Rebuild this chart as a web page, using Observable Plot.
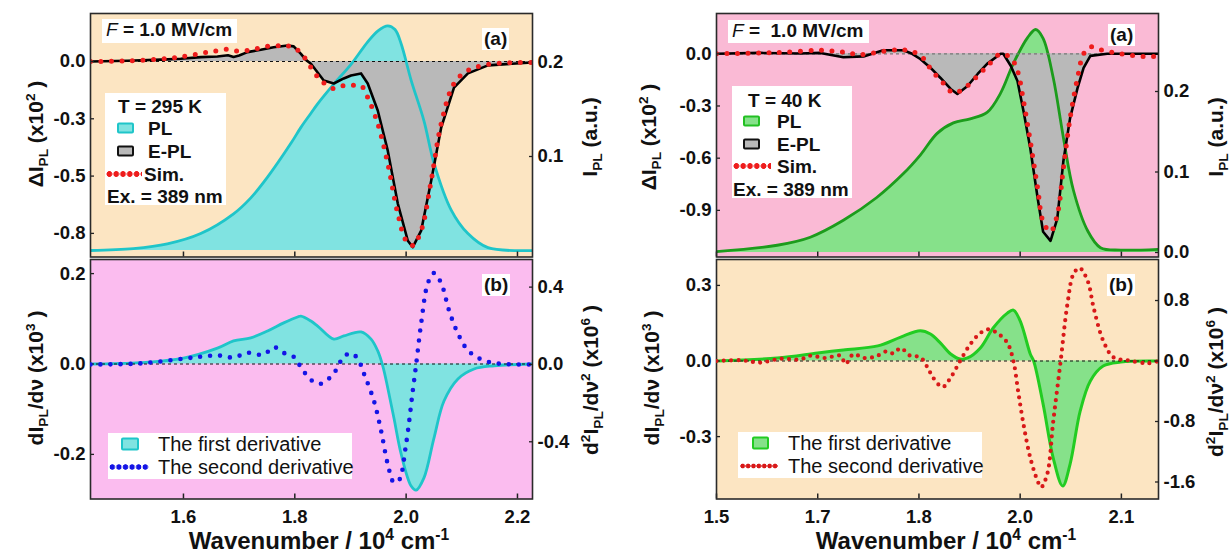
<!DOCTYPE html>
<html>
<head>
<meta charset="utf-8">
<script src="https://cdn.jsdelivr.net/npm/d3@7"></script>
<script src="https://cdn.jsdelivr.net/npm/@observablehq/plot@0.6"></script>
<style>
  body { margin: 0; background: #fff; }
  #root { position: relative; width: 1231px; height: 554px; overflow: hidden; background: #fff;
          font-family: 'Liberation Sans', Arial, Helvetica, sans-serif; color: #111; }
  .ytitle { position: absolute; transform: translate(-50%, -50%) rotate(-90deg); font-weight: bold;
            font-size: 21px; white-space: nowrap; line-height: 1; }
  .xtitle { position: absolute; transform: translate(-50%, -50%); font-weight: bold; font-size: 24px;
            white-space: nowrap; line-height: 1; }
  sub, sup { font-size: 0.65em; line-height: 0; }
  .box { position: absolute; background: #fff; }
  .tag { position: absolute; background: #fff; font-weight: bold; font-size: 19px; line-height: 22px;
         padding: 0 2px; white-space: nowrap; }
  .it { position: absolute; transform: translateY(-50%); white-space: nowrap; line-height: 1; }
  .b { font-weight: bold; font-size: 19px; }
  .r { font-weight: normal; font-size: 20px; }
  .sw { position: absolute; transform: translateY(-50%); box-sizing: border-box; border-radius: 2px; }
  .dots { position: absolute; transform: translateY(-50%); height: 6px; background-repeat: repeat-x; }
</style>
</head>
<body>
<div id="root"></div>
<script>
// ---------------- DATA ----------------
// Left column, T = 295 K. Wavenumber in 10^4 cm^-1
const LT_PL_wn = [1.433,1.510,1.571,1.631,1.690,1.721,1.751,1.793,1.811,1.829,1.841,1.870,1.901,1.931,1.950,1.967,1.980,1.991,2.009,2.032,2.050,2.081,2.111,2.147,2.227];
const LT_PL    = [0.000,0.002,0.007,0.018,0.039,0.056,0.078,0.114,0.131,0.146,0.156,0.177,0.198,0.222,0.234,0.239,0.235,0.220,0.181,0.138,0.093,0.043,0.018,0.003,0.000];
const LT_EPL_wn = [1.433,1.500,1.560,1.595,1.631,1.661,1.680,1.690,1.700,1.715,1.739,1.762,1.787,1.798,1.811,1.820,1.829,1.852,1.870,1.888,1.901,1.919,1.931,1.949,1.967,1.985,2.003,2.012,2.027,2.045,2.063,2.086,2.111,2.147,2.227];
const LT_EPL    = [0,0.003,0.008,0.012,0.019,0.022,0.027,0.020,0.026,0.041,0.051,0.062,0.070,0.066,0.033,0.007,-0.010,-0.083,-0.096,-0.074,-0.061,-0.052,-0.096,-0.214,-0.389,-0.620,-0.782,-0.810,-0.738,-0.520,-0.288,-0.114,-0.052,-0.017,-0.004];
const LT_SIM_wn = [1.433,1.500,1.571,1.600,1.631,1.655,1.679,1.700,1.721,1.740,1.760,1.780,1.793,1.811,1.829,1.847,1.870,1.888,1.905,1.919,1.931,1.949,1.967,1.985,2.000,2.012,2.027,2.045,2.063,2.086,2.111,2.147,2.227];
const LT_SIM    = [0,0.003,0.013,0.022,0.035,0.045,0.053,0.045,0.050,0.061,0.069,0.068,0.066,0.037,-0.026,-0.083,-0.118,-0.105,-0.104,-0.105,-0.157,-0.271,-0.445,-0.664,-0.782,-0.803,-0.738,-0.520,-0.271,-0.096,-0.039,-0.013,-0.004];
const LB_D1_wn = [1.433,1.523,1.600,1.661,1.690,1.721,1.751,1.780,1.805,1.811,1.829,1.841,1.870,1.888,1.919,1.937,1.949,1.958,1.967,1.978,1.991,2.009,2.018,2.032,2.050,2.068,2.093,2.122,2.158,2.227];
const LB_D1    = [0,0.003,0.013,0.035,0.051,0.058,0.073,0.091,0.104,0.106,0.095,0.084,0.055,0.062,0.071,0.055,0.029,-0.004,-0.053,-0.119,-0.199,-0.270,-0.279,-0.252,-0.164,-0.082,-0.033,-0.011,-0.004,0];
const LB_D2_wn = [1.433,1.520,1.600,1.631,1.661,1.690,1.715,1.744,1.762,1.780,1.798,1.811,1.829,1.847,1.870,1.888,1.901,1.913,1.924,1.942,1.955,1.967,1.978,1.987,2.000,2.012,2.018,2.027,2.039,2.050,2.063,2.077,2.093,2.111,2.135,2.165,2.227];
const LB_D2    = [0,0.005,0.03,0.04,0.047,0.036,0.06,0.05,0.09,0.06,0.04,-0.014,-0.08,-0.10,-0.046,0.04,0.058,0.03,-0.046,-0.187,-0.343,-0.516,-0.61,-0.60,-0.41,-0.135,0,0.213,0.42,0.473,0.42,0.28,0.16,0.073,0.026,0.005,0];

// Right column, T = 40 K
const RT_PL_wn = [1.500,1.590,1.639,1.688,1.737,1.777,1.802,1.827,1.851,1.876,1.901,1.921,1.940,1.961,1.973,1.984,1.999,2.014,2.029,2.050,2.069,2.099,2.155];
const RT_PL    = [0.001,0.009,0.019,0.040,0.068,0.098,0.121,0.148,0.161,0.166,0.174,0.198,0.235,0.267,0.277,0.266,0.217,0.143,0.077,0.027,0.006,0.003,0.004];
const RT_EPL_wn = [1.500,1.565,1.624,1.654,1.688,1.718,1.747,1.777,1.790,1.802,1.817,1.832,1.847,1.857,1.872,1.887,1.901,1.921,1.925,1.936,1.946,1.955,1.965,1.976,1.984,1.995,2.005,2.014,2.024,2.035,2.044,2.054,2.079,2.155];
const RT_EPL    = [0,0.005,0.002,0.005,-0.02,-0.015,0.02,0.02,0.0,-0.03,-0.08,-0.139,-0.202,-0.231,-0.185,-0.116,-0.058,0.0,0.0,-0.069,-0.156,-0.33,-0.543,-0.832,-1.023,-1.075,-0.948,-0.618,-0.37,-0.197,-0.081,-0.012,0,0];
const RT_SIM_wn = [1.500,1.565,1.600,1.650,1.688,1.713,1.758,1.783,1.802,1.813,1.817,1.836,1.851,1.866,1.887,1.906,1.921,1.936,1.946,1.955,1.965,1.976,1.984,1.995,2.005,2.014,2.024,2.035,2.044,2.054,2.069,2.099,2.143,2.155];
const RT_SIM    = [0,0.005,0.008,0.02,0.01,-0.005,0.02,0.02,-0.01,-0.058,-0.087,-0.168,-0.225,-0.202,-0.127,-0.052,0,-0.023,-0.098,-0.272,-0.503,-0.775,-0.965,-1.023,-0.925,-0.659,-0.37,-0.139,0.0,0.04,0.023,0.0,-0.017,-0.01];
const RB_D1_wn = [1.500,1.590,1.650,1.688,1.739,1.773,1.802,1.817,1.832,1.847,1.861,1.872,1.891,1.910,1.931,1.940,1.950,1.965,1.970,1.984,1.999,2.013,2.024,2.039,2.054,2.073,2.099,2.155];
const RB_D1    = [0,0.012,0.032,0.044,0.06,0.095,0.12,0.107,0.071,0.028,0.008,0.012,0.052,0.131,0.19,0.202,0.159,0.028,0,-0.171,-0.385,-0.496,-0.409,-0.198,-0.079,-0.02,-0.004,0];
const RB_D2_wn = [1.500,1.536,1.565,1.595,1.624,1.639,1.661,1.684,1.691,1.703,1.718,1.736,1.753,1.762,1.773,1.787,1.802,1.813,1.821,1.835,1.847,1.861,1.876,1.891,1.903,1.916,1.931,1.940,1.947,1.955,1.965,1.976,1.981,1.990,1.999,2.010,2.020,2.029,2.038,2.050,2.059,2.073,2.088,2.109,2.139,2.155];
const RB_D2    = [0,0.01,-0.02,0.03,0.02,0.07,0.04,0.07,-0.04,0.09,0.04,0.06,0.13,0.10,0.17,0.07,0.05,-0.09,-0.22,-0.345,-0.22,0,0.22,0.37,0.42,0.37,0.24,0,-0.40,-0.84,-1.28,-1.59,-1.67,-1.50,-0.80,0,0.75,1.15,1.23,1.06,0.70,0.27,0.05,0.01,-0.03,0];

// Ticks and tick labels
const L_xTicks = [1.6, 1.8, 2.0, 2.2];             const L_xLabels = ["1.6","1.8","2.0","2.2"];
const R_xTicks = [1.5, 1.65, 1.8, 1.95, 2.1];      const R_xLabels = ["1.5","1.7","1.8","2.0","2.1"];
const LT_yTicks = [0, -0.25, -0.5, -0.75];         const LT_yLabels = ["0.0","-0.3","-0.5","-0.8"];
const LT_y2Ticks = [0.1, 0.2];                     const LT_y2Labels = ["0.1","0.2"];
const LB_yTicks = [0.2, 0, -0.2];                  const LB_yLabels = ["0.2","0.0","-0.2"];
const LB_y2Ticks = [0.4, 0, -0.4];                 const LB_y2Labels = ["0.4","0.0","-0.4"];
const RT_yTicks = [0, -0.3, -0.6, -0.9];           const RT_yLabels = ["0.0","-0.3","-0.6","-0.9"];
const RT_y2Ticks = [0, 0.1, 0.2];                  const RT_y2Labels = ["0.0","0.1","0.2"];
const RB_yTicks = [0.3, 0, -0.3];                  const RB_yLabels = ["0.3","0.0","-0.3"];
const RB_y2Ticks = [0.8, 0, -0.8, -1.6];           const RB_y2Labels = ["0.8","0.0","-0.8","-1.6"];

// ---------------- helpers ----------------
const FONT = "'Liberation Sans', Arial, Helvetica, sans-serif";
const root = document.getElementById("root");
const tbl = (xs, ys) => xs.map((x, i) => ({x, y: ys[i]}));
const fmt = (ticks, labels) => d => labels[ticks.findIndex(t => Math.abs(t - d) < 1e-9)];

const MARGIN = {l: 60, r: 60, t: 8};
function layer(frame, xDomain, yDomain, mb, marks) {
  const svg = Plot.plot({
    width: frame.w + MARGIN.l + MARGIN.r,
    height: frame.h + MARGIN.t + mb,
    marginLeft: MARGIN.l, marginRight: MARGIN.r, marginTop: MARGIN.t, marginBottom: mb,
    x: {domain: xDomain, axis: null, label: null},
    y: {domain: yDomain, axis: null, label: null},
    style: {background: "transparent", overflow: "visible", fontFamily: FONT, fontSize: "18.5px",
            fontWeight: "bold", color: "#111"},
    marks
  });
  svg.style.position = "absolute";
  svg.style.left = (frame.x - MARGIN.l) + "px";
  svg.style.top = (frame.y - MARGIN.t) + "px";
  root.appendChild(svg);
}
function yAxis(anchor, ticks, labels) {
  return [
    Plot.axisY({anchor, ticks, label: null, tickSize: -4, fill: "none", stroke: "#222", strokeWidth: 1.3}),
    Plot.axisY({anchor, ticks, label: null, tickSize: 0, tickPadding: 5, tickFormat: fmt(ticks, labels)})
  ];
}
function xAxis(ticks, labels, withLabels) {
  const m = [Plot.axisX({ticks, label: null, tickSize: -5, fill: "none", stroke: "#222", strokeWidth: 1.5})];
  if (withLabels) m.push(Plot.axisX({ticks, label: null, tickSize: 0, tickPadding: 11, tickFormat: fmt(ticks, labels)}));
  return m;
}
const dotted = (data, color, w, gap) => Plot.line(data, {x: "x", y: "y", stroke: color, strokeWidth: w,
  strokeDasharray: `0 ${gap}`, strokeLinecap: "round", curve: "catmull-rom", clip: true});
const zero = (color) => Plot.ruleY([0], {stroke: color, strokeWidth: 1.2, strokeDasharray: "3,3"});
const border = () => Plot.frame({stroke: "#2a2a2a", strokeWidth: 1.6});

// Frames (plot areas) in page pixels
const LTf = {x: 90, y: 13, w: 442, h: 243.5};
const LBf = {x: 90, y: 258.5, w: 442, h: 239.5};
const RTf = {x: 716, y: 13, w: 442, h: 243.5};
const RBf = {x: 716, y: 258.5, w: 442, h: 239.5};
const L_xDom = [1.433, 2.227], R_xDom = [1.5, 2.155];

// colours
const PEACH = "#fce5c2", MAGENTA = "#fbbcef", PINK = "#fabad5";
const CYAN_F = "#80e3e1", CYAN_S = "#1fc5c9";
const GREEN_F = "#86e18a", GREEN_S_TOP = "#1c9c1c", GREEN_S_BOT = "#22cc22";
const GRAY_F = "#b9b9b9";

// ---------------- Left top ----------------
{
  const yP = [-0.853, 0.2094], yS = [-0.0069, 0.2521];
  const pl = tbl(LT_PL_wn, LT_PL), epl = tbl(LT_EPL_wn, LT_EPL), sim = tbl(LT_SIM_wn, LT_SIM);
  layer(LTf, L_xDom, yS, 8, [Plot.frame({fill: PEACH}),
    Plot.areaY(pl, {x: "x", y: "y", fill: CYAN_F, curve: "catmull-rom", clip: true})]);
  layer(LTf, L_xDom, yP, 8, [Plot.areaY(epl, {x: "x", y: "y", fill: GRAY_F, clip: true})]);
  layer(LTf, L_xDom, yS, 8, [Plot.lineY(pl, {x: "x", y: "y", stroke: CYAN_S, strokeWidth: 2.8, curve: "catmull-rom", clip: true}),
    ...yAxis("right", LT_y2Ticks, LT_y2Labels)]);
  layer(LTf, L_xDom, yP, 8, [zero("#111"),
    Plot.lineY(epl, {x: "x", y: "y", stroke: "#000", strokeWidth: 2.6, clip: true}),
    dotted(sim, "#ee1c1c", 5, 10.5),
    ...yAxis("left", LT_yTicks, LT_yLabels), ...xAxis(L_xTicks, L_xLabels, false), border()]);
}
// ---------------- Left bottom ----------------
{
  const yP = [-0.2987, 0.2312], yS = [-0.696, 0.5429];
  const d1 = tbl(LB_D1_wn, LB_D1), d2 = tbl(LB_D2_wn, LB_D2);
  layer(LBf, L_xDom, yP, 40, [Plot.frame({fill: MAGENTA}),
    Plot.areaY(d1, {x: "x", y: "y", fill: CYAN_F, curve: "catmull-rom", clip: true}),
    Plot.lineY(d1, {x: "x", y: "y", stroke: CYAN_S, strokeWidth: 2.8, curve: "catmull-rom", clip: true}),
    zero("#111"),
    ...yAxis("left", LB_yTicks, LB_yLabels), ...xAxis(L_xTicks, L_xLabels, true), border()]);
  layer(LBf, L_xDom, yS, 40, [dotted(d2, "#1414e6", 4.6, 10), ...yAxis("right", LB_y2Ticks, LB_y2Labels)]);
}
// ---------------- Right top ----------------
{
  const yP = [-1.168, 0.2316], yS = [-0.0056, 0.2969];
  const pl = tbl(RT_PL_wn, RT_PL), epl = tbl(RT_EPL_wn, RT_EPL), sim = tbl(RT_SIM_wn, RT_SIM);
  layer(RTf, R_xDom, yS, 8, [Plot.frame({fill: PINK}),
    Plot.areaY(pl, {x: "x", y: "y", fill: GREEN_F, curve: "catmull-rom", clip: true})]);
  layer(RTf, R_xDom, yP, 8, [Plot.areaY(epl, {x: "x", y: "y", fill: GRAY_F, clip: true})]);
  layer(RTf, R_xDom, yS, 8, [Plot.lineY(pl, {x: "x", y: "y", stroke: GREEN_S_TOP, strokeWidth: 2.8, curve: "catmull-rom", clip: true}),
    ...yAxis("right", RT_y2Ticks, RT_y2Labels)]);
  layer(RTf, R_xDom, yP, 8, [zero("#777"),
    Plot.lineY(epl, {x: "x", y: "y", stroke: "#000", strokeWidth: 2.6, clip: true}),
    dotted(sim, "#ee1c1c", 5, 10.5),
    ...yAxis("left", RT_yTicks, RT_yLabels), ...xAxis(R_xTicks, R_xLabels, false), border()]);
}
// ---------------- Right bottom ----------------
{
  const yP = [-0.5476, 0.4028], yS = [-1.825, 1.3426];
  const d1 = tbl(RB_D1_wn, RB_D1), d2 = tbl(RB_D2_wn, RB_D2);
  layer(RBf, R_xDom, yP, 40, [Plot.frame({fill: PEACH}),
    Plot.areaY(d1, {x: "x", y: "y", fill: GREEN_F, curve: "catmull-rom", clip: true}),
    Plot.lineY(d1, {x: "x", y: "y", stroke: GREEN_S_BOT, strokeWidth: 3, curve: "catmull-rom", clip: true}),
    zero("#111"),
    ...yAxis("left", RB_yTicks, RB_yLabels), ...xAxis(R_xTicks, R_xLabels, true), border()]);
  layer(RBf, R_xDom, yS, 40, [dotted(d2, "#d81818", 4.2, 7.3), ...yAxis("right", RB_y2Ticks, RB_y2Labels)]);
}

// ---------------- Text: titles, labels, legends ----------------
function html(s) { const d = document.createElement("div"); d.innerHTML = s; while (d.firstChild) root.appendChild(d.firstChild); }
const dotBg = (c, r, gap) => `background-image: radial-gradient(circle, ${c} ${r}px, transparent ${r + 0.6}px); background-size: ${gap}px 6px;`;

html(`
<div class="ytitle" style="left:35px;top:134px">ΔI<sub>PL</sub> (x10<sup>2</sup> )</div>
<div class="ytitle" style="left:35px;top:378px">dI<sub>PL</sub>/dν (x10<sup>3</sup> )</div>
<div class="ytitle" style="left:589px;top:137px">I<sub>PL</sub> (a.u.)</div>
<div class="ytitle" style="left:590px;top:380px">d<sup>2</sup>I<sub>PL</sub>/dν<sup>2</sup> (x10<sup>6</sup> )</div>
<div class="ytitle" style="left:648px;top:137px">ΔI<sub>PL</sub> (x10<sup>2</sup> )</div>
<div class="ytitle" style="left:651px;top:378px">dI<sub>PL</sub>/dν (x10<sup>3</sup> )</div>
<div class="ytitle" style="left:1215px;top:137px">I<sub>PL</sub> (a.u.)</div>
<div class="ytitle" style="left:1215px;top:382px">d<sup>2</sup>I<sub>PL</sub>/dν<sup>2</sup> (x10<sup>6</sup> )</div>
<div class="xtitle" style="left:319px;top:541px">Wavenumber / 10<sup>4</sup> cm<sup>-1</sup></div>
<div class="xtitle" style="left:946px;top:541px">Wavenumber / 10<sup>4</sup> cm<sup>-1</sup></div>

<div class="tag" style="left:102px;top:19px;width:129px;height:24px;padding:0 2px 0 4px"><i style="font-weight:normal">F</i> = 1.0 MV/cm</div>
<div class="tag" style="left:728px;top:20px;width:135px;height:23px;padding:0 2px 0 4px"><i style="font-weight:normal">F</i> =&nbsp; 1.0 MV/cm</div>
<div class="tag" style="left:482px;top:28px">(a)</div>
<div class="tag" style="left:1108px;top:24px">(a)</div>
<div class="tag" style="left:482px;top:274px">(b)</div>
<div class="tag" style="left:1107px;top:274px">(b)</div>

<div class="box" style="left:105px;top:93px;width:121px;height:112px">
  <div class="it b" style="left:13px;top:13px">T = 295 K</div>
  <div class="sw" style="left:12px;top:35px;width:17px;height:11px;background:${CYAN_F};border:2px solid ${CYAN_S}"></div>
  <div class="it b" style="left:43px;top:35px">PL</div>
  <div class="sw" style="left:12px;top:58px;width:17px;height:11px;background:${GRAY_F};border:2.5px solid #111"></div>
  <div class="it b" style="left:43px;top:58px">E-PL</div>
  <div class="dots" style="left:1px;top:81px;width:36px;${dotBg('#ee1c1c', 2.6, 6.8)}"></div>
  <div class="it b" style="left:39px;top:81px">Sim.</div>
  <div class="it b" style="left:2px;top:103px">Ex. = 389 nm</div>
</div>

<div class="box" style="left:732px;top:86px;width:120px;height:112px">
  <div class="it b" style="left:16px;top:14px">T = 40 K</div>
  <div class="sw" style="left:11px;top:35px;width:17px;height:11px;background:${GREEN_F};border:2px solid #22c022"></div>
  <div class="it b" style="left:45px;top:35px">PL</div>
  <div class="sw" style="left:11px;top:58px;width:17px;height:11px;background:${GRAY_F};border:2.5px solid #111"></div>
  <div class="it b" style="left:45px;top:58px">E-PL</div>
  <div class="dots" style="left:1px;top:80px;width:38px;${dotBg('#ee1c1c', 2.6, 6.8)}"></div>
  <div class="it b" style="left:45px;top:80px">Sim.</div>
  <div class="it b" style="left:1px;top:103px">Ex. = 389 nm</div>
</div>

<div class="box" style="left:108px;top:433px;width:244px;height:46px">
  <div class="sw" style="left:13px;top:11px;width:18px;height:13px;background:${CYAN_F};border:2px solid ${CYAN_S}"></div>
  <div class="it r" style="left:50px;top:11px">The first derivative</div>
  <div class="dots" style="left:1px;top:34px;width:40px;${dotBg('#1414e6', 2.4, 6.6)}"></div>
  <div class="it r" style="left:50px;top:34px">The second derivative</div>
</div>

<div class="box" style="left:738px;top:432px;width:244px;height:46px">
  <div class="sw" style="left:14px;top:11px;width:17px;height:13px;background:${GREEN_F};border:2.5px solid ${GREEN_S_BOT}"></div>
  <div class="it r" style="left:50px;top:11px">The first derivative</div>
  <div class="dots" style="left:2px;top:34px;width:38px;${dotBg('#d81818', 2.1, 5.4)}"></div>
  <div class="it r" style="left:50px;top:34px">The second derivative</div>
</div>
`);
</script>
</body>
</html>
